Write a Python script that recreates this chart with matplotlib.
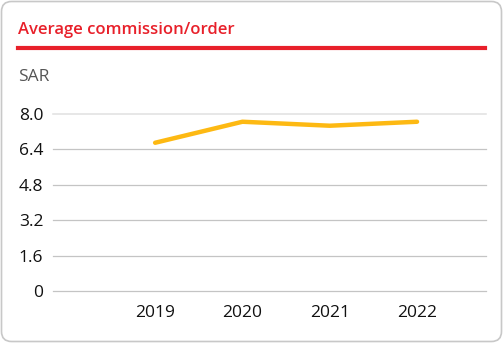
import matplotlib
matplotlib.use("Agg")
import matplotlib.pyplot as plt
from matplotlib.patches import FancyBboxPatch
from matplotlib.lines import Line2D

years = ["2019", "2020", "2021", "2022"]
values = [6.70, 7.65, 7.47, 7.65]
yticks = [0, 1.6, 3.2, 4.8, 6.4, 8.0]
ytick_labels = ["0", "1.6", "3.2", "4.8", "6.4", "8.0"]

W, H = 503, 343
plt.rcParams['font.family'] = ['Open Sans', 'DejaVu Sans']
fig = plt.figure(figsize=(W / 100, H / 100), dpi=100)

# card border
card = FancyBboxPatch((1.5 / W, 1.5 / H), (W - 3) / W, (H - 3) / H,
                      boxstyle="round,pad=0,rounding_size=0.02",
                      transform=fig.transFigure, facecolor="white",
                      edgecolor="#c8c8c8", linewidth=1.2, mutation_aspect=W / H,
                      zorder=-10)
fig.patches.append(card)

fig.text(18 / W, 1 - 30 / H, "Average commission/order", color="#e8202a",
         fontsize=12, fontweight="semibold", va="center", ha="left")
fig.add_artist(Line2D([18 / W, 485 / W], [1 - 48 / H, 1 - 48 / H],
                      transform=fig.transFigure, color="#e8202a", linewidth=3))
fig.text(18 / W, 1 - 77 / H, "SAR", color="#555555", fontsize=12.5,
         va="center", ha="left")

left, right = 53 / W, 486 / W
bottom, top = 1 - 291 / H, 1 - 114 / H
ax = fig.add_axes([left, bottom, right - left, top - bottom])
ax.set_facecolor("none")
ax.set_zorder(5)
x = list(range(len(years)))
ax.plot(x, values, color="#fdb913", linewidth=3.2, solid_capstyle="round",
        solid_joinstyle="round", clip_on=False, zorder=3)
ax.set_ylim(0, 8)
ax.set_xlim(-1.17, 3.79)
ax.set_yticks(yticks)
ax.set_yticklabels(ytick_labels)
ax.set_xticks(x)
ax.set_xticklabels(years)
for yv in yticks:
    ax.axhline(yv, color="#e0e0e0" if yv == 8.0 else "#c4c4c4",
               linewidth=1.1 if yv == 8.0 else 0.9, zorder=1, clip_on=False)
for s in ax.spines.values():
    s.set_visible(False)
ax.tick_params(axis="both", length=0, labelsize=12.5, labelcolor="#111111")
ax.tick_params(axis="y", pad=7)
ax.tick_params(axis="x", pad=10)

fig.savefig("out.png", dpi=100)
